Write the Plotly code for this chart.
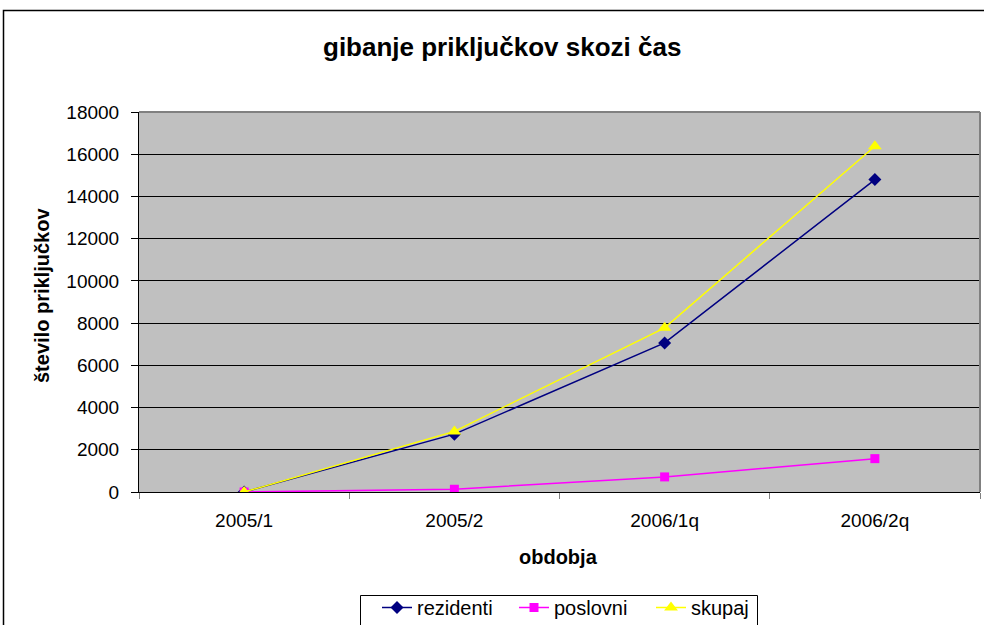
import plotly.graph_objects as go

categories = ["2005/1", "2005/2", "2006/1q", "2006/2q"]
rezidenti = [0, 2740, 7060, 14800]
poslovni = [0, 130, 715, 1580]
skupaj = [0, 2870, 7775, 16380]
y_ticks = [0, 2000, 4000, 6000, 8000, 10000, 12000, 14000, 16000, 18000]
y_ticktext = [str(v) for v in y_ticks]

FONT = "Liberation Sans, Arial, sans-serif"
W, H = 984, 625
L, R, T, B = 139, 4, 112, 133
pw, ph = W - L - R, H - T - B

def px_x(x):
    return (x - L) / pw

def px_y(y):
    return (H - B - y) / ph

fig = go.Figure()
fig.add_trace(go.Scatter(x=categories, y=rezidenti, name="rezidenti", mode="lines+markers",
                         line=dict(color="#000080", width=1.5),
                         marker=dict(symbol="diamond", size=10, color="#000080")))
fig.add_trace(go.Scatter(x=categories, y=poslovni, name="poslovni", mode="lines+markers",
                         line=dict(color="#FF00FF", width=1.5),
                         marker=dict(symbol="square", size=9, color="#FF00FF")))
fig.add_trace(go.Scatter(x=categories, y=skupaj, name="skupaj", mode="lines+markers",
                         line=dict(color="#FFFF00", width=1.5),
                         marker=dict(symbol="triangle-up", size=12, color="#FFFF00")))

fig.update_layout(
    width=W, height=H,
    margin=dict(l=L, r=R, t=T, b=B, pad=0, autoexpand=False),
    paper_bgcolor="white", plot_bgcolor="#C0C0C0",
    font=dict(family=FONT, size=19, color="black"),
    showlegend=True,
    legend=dict(orientation="h", x=px_x(377), y=px_y(588), xanchor="left", yanchor="top",
                borderwidth=0, bgcolor="rgba(0,0,0,0)", entrywidth=92, entrywidthmode="pixels",
                font=dict(size=20), tracegroupgap=0),
    xaxis=dict(type="category", range=[-0.5, 3.5], tickson="boundaries", ticks="outside",
               ticklen=6, tickcolor="#808080", showgrid=False, showline=True, linecolor="black",
               linewidth=1, mirror=False, tickfont=dict(size=19), ticklabelstandoff=11,
               automargin=False),
    yaxis=dict(range=[0, 18000], tickvals=y_ticks, ticktext=y_ticktext, ticks="outside",
               ticklen=7, tickcolor="black",
               showgrid=True, gridcolor="black", gridwidth=1, showline=True, linecolor="black",
               zeroline=False, tickfont=dict(size=19), ticklabelstandoff=8,
               automargin=False),
)

# plot-area top/right border (gray)
fig.add_shape(type="line", xref="paper", yref="paper", x0=0, x1=1, y0=1, y1=1,
              line=dict(color="#808080", width=2))
fig.add_shape(type="line", xref="paper", yref="paper", x0=1, x1=1, y0=0, y1=1,
              line=dict(color="#808080", width=2))
# outer chart border
fig.add_shape(type="rect", xref="paper", yref="paper", x0=px_x(3.5), x1=px_x(1000),
              y0=px_y(700), y1=px_y(10.5), line=dict(color="black", width=1.5),
              fillcolor="rgba(0,0,0,0)", layer="below")
# legend box
fig.add_shape(type="rect", xref="paper", yref="paper", x0=px_x(360.5), x1=px_x(757.5),
              y0=px_y(660), y1=px_y(595.5), line=dict(color="black", width=1),
              fillcolor="white", layer="above")

fig.add_annotation(text="<b>gibanje priključkov skozi čas</b>", xref="paper", yref="paper",
                   x=px_x(502), y=px_y(47), xanchor="center", yanchor="middle",
                   showarrow=False, font=dict(size=26, family=FONT))
fig.add_annotation(text="<b>obdobja</b>", xref="paper", yref="paper",
                   x=px_x(558), y=px_y(557), xanchor="center", yanchor="middle",
                   showarrow=False, font=dict(size=20, family=FONT))
fig.add_annotation(text="<b>število priključkov</b>", xref="paper", yref="paper",
                   x=px_x(42), y=px_y(296), xanchor="center", yanchor="middle", textangle=-90,
                   showarrow=False, font=dict(size=20, family=FONT))

fig.write_html("out.html", config={"displayModeBar": False},
               post_script="document.body.style.margin='0px';document.body.style.overflow='hidden';")
